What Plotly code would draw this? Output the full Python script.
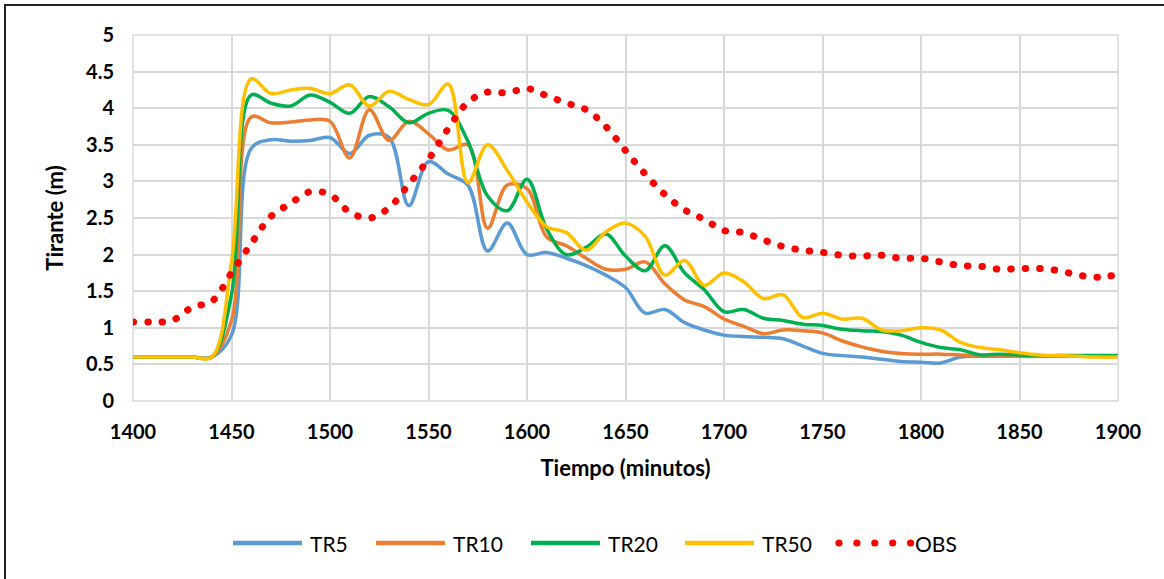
import plotly.graph_objects as go

# Time axis (minutes) and simulated / observed water depth (m)
tiempo = [1400, 1410, 1420, 1430, 1440, 1450, 1460, 1470, 1480, 1490,
          1500, 1510, 1520, 1530, 1540, 1550, 1560, 1570, 1580, 1590,
          1600, 1610, 1620, 1630, 1640, 1650, 1660, 1670, 1680, 1690,
          1700, 1710, 1720, 1730, 1740, 1750, 1760, 1770, 1780, 1790,
          1800, 1810, 1820, 1830, 1840, 1850, 1860, 1870, 1880, 1890, 1900]

tr5 = [0.60, 0.60, 0.60, 0.60, 0.60, 0.90, 3.45, 3.57, 3.55, 3.56,
       3.60, 3.38, 3.63, 3.60, 2.67, 3.27, 3.10, 2.95, 2.05, 2.43,
       2.00, 2.03, 1.95, 1.85, 1.72, 1.55, 1.20, 1.25, 1.07, 0.97,
       0.90, 0.88, 0.87, 0.85, 0.75, 0.65, 0.62, 0.60, 0.57, 0.54,
       0.53, 0.52, 0.60, 0.61, 0.61, 0.61, 0.61, 0.61, 0.61, 0.61, 0.61]

tr10 = [0.60, 0.60, 0.60, 0.60, 0.60, 1.10, 3.88, 3.80, 3.81, 3.84,
        3.82, 3.32, 3.98, 3.56, 3.82, 3.65, 3.43, 3.50, 2.36, 2.95,
        2.90, 2.24, 2.12, 1.95, 1.80, 1.80, 1.90, 1.60, 1.38, 1.29,
        1.12, 1.02, 0.92, 0.97, 0.96, 0.93, 0.82, 0.74, 0.68, 0.65,
        0.64, 0.64, 0.63, 0.62, 0.62, 0.61, 0.61, 0.61, 0.61, 0.61, 0.61]

tr20 = [0.60, 0.60, 0.60, 0.60, 0.60, 1.45, 4.18, 4.07, 4.03, 4.18,
        4.08, 3.93, 4.16, 4.02, 3.80, 3.93, 3.97, 3.55, 2.80, 2.60,
        3.03, 2.35, 2.00, 2.10, 2.28, 1.98, 1.78, 2.12, 1.75, 1.52,
        1.22, 1.25, 1.13, 1.10, 1.05, 1.03, 0.98, 0.96, 0.95, 0.90,
        0.80, 0.73, 0.70, 0.63, 0.64, 0.63, 0.62, 0.62, 0.62, 0.62, 0.62]

tr50 = [0.60, 0.60, 0.60, 0.60, 0.60, 1.90, 4.40, 4.20, 4.25, 4.27,
        4.20, 4.32, 4.03, 4.23, 4.12, 4.05, 4.33, 2.98, 3.50, 3.15,
        2.72, 2.38, 2.30, 2.06, 2.31, 2.43, 2.25, 1.72, 1.92, 1.58,
        1.75, 1.63, 1.40, 1.45, 1.14, 1.20, 1.12, 1.13, 0.97, 0.96,
        1.00, 0.97, 0.80, 0.73, 0.70, 0.66, 0.63, 0.62, 0.61, 0.60, 0.60]

obs = [1.08, 1.08, 1.10, 1.28, 1.36, 1.75, 2.15, 2.52, 2.70, 2.86,
       2.82, 2.58, 2.50, 2.64, 2.96, 3.30, 3.72, 4.08, 4.22, 4.21,
       4.27, 4.17, 4.07, 3.98, 3.75, 3.42, 3.10, 2.82, 2.61, 2.48,
       2.33, 2.30, 2.20, 2.11, 2.06, 2.03, 1.99, 1.98, 1.99, 1.95,
       1.95, 1.90, 1.85, 1.84, 1.80, 1.81, 1.81, 1.78, 1.72, 1.69, 1.73]

x_ticks = [1400, 1450, 1500, 1550, 1600, 1650, 1700, 1750, 1800, 1850, 1900]
y_ticks = [0, 0.5, 1, 1.5, 2, 2.5, 3, 3.5, 4, 4.5, 5]
y_labels = ["0", "0.5", "1", "1.5", "2", "2.5", "3", "3.5", "4", "4.5", "5"]

series_names = ["TR5", "TR10", "TR20", "TR50"]
series_values = [tr5, tr10, tr20, tr50]
series_colors = ["#5B9BD5", "#ED7D31", "#00B050", "#FFC000"]
obs_color = "#FF0000"

FONT = "Lato"
W, H = 1164, 579
ML, MR, MT, MB = 133, 46, 35, 178
PW, PH = W - ML - MR, H - MT - MB


def px_x(px):
    """pixel column -> paper x"""
    return (px - ML) / PW


def px_y(py):
    """pixel row -> paper y"""
    return (H - MB - py) / PH


fig = go.Figure()
for name, vals, color in zip(series_names, series_values, series_colors):
    fig.add_trace(go.Scatter(
        x=tiempo, y=vals, name=name, mode="lines", showlegend=False,
        line=dict(color=color, width=3.5, shape="spline", smoothing=1.0),
    ))

fig.add_trace(go.Scatter(
    x=tiempo, y=obs, name="OBS", mode="lines", showlegend=False,
    line=dict(color=obs_color, width=7, shape="spline", smoothing=1.0,
              dash="0.5px,14px"),
))

shapes = [
    # outer chart frame
    dict(type="rect", xref="paper", yref="paper",
         x0=px_x(5), x1=px_x(1300), y0=px_y(700), y1=px_y(5),
         line=dict(color="#222222", width=2), fillcolor="rgba(0,0,0,0)",
         layer="below"),
    # plot-area border
    dict(type="rect", xref="paper", yref="paper", x0=0, x1=1, y0=0, y1=1,
         line=dict(color="#D9D9D9", width=1.5), fillcolor="rgba(0,0,0,0)",
         layer="below"),
]
annotations = []

# Legend row below the x-axis title
leg_y = px_y(543)
leg_font = dict(family=FONT, size=21, color="#000000")
leg_starts = [233, 376, 531, 685]
for start, name, color in zip(leg_starts, series_names, series_colors):
    shapes.append(dict(type="line", xref="paper", yref="paper",
                       x0=px_x(start), x1=px_x(start + 69), y0=leg_y, y1=leg_y,
                       line=dict(color=color, width=4.5)))
    annotations.append(dict(xref="paper", yref="paper", x=px_x(start + 75), y=leg_y,
                            text=name, showarrow=False, xanchor="left",
                            yanchor="middle", font=leg_font))
for k in range(5):
    cx = 839 + k * 17.9
    shapes.append(dict(type="circle", xref="paper", yref="paper",
                       x0=px_x(cx - 3.6), x1=px_x(cx + 3.6),
                       y0=px_y(543 + 3.6), y1=px_y(543 - 3.6),
                       fillcolor=obs_color, line=dict(width=0)))
annotations.append(dict(xref="paper", yref="paper", x=px_x(913), y=leg_y,
                        text="OBS", showarrow=False, xanchor="left",
                        yanchor="middle", font=leg_font))

fig.update_layout(
    width=W, height=H,
    margin=dict(l=ML, r=MR, t=MT, b=MB),
    paper_bgcolor="white", plot_bgcolor="white",
    font=dict(family=FONT, color="#000000"),
    showlegend=False,
    shapes=shapes,
    annotations=annotations,
)

fig.update_xaxes(
    range=[1400, 1900], tickvals=x_ticks, ticktext=[str(v) for v in x_ticks],
    showgrid=True, gridcolor="#D9D9D9", gridwidth=1.5,
    zeroline=False, showline=False, ticks="", ticklabelstandoff=17,
    tickfont=dict(family=FONT, size=20, weight="bold", color="#000000"),
    title=dict(text="Tiempo (minutos)", standoff=18,
               font=dict(family=FONT, size=22, weight="bold", color="#000000")),
)
fig.update_yaxes(
    range=[0, 5], tickvals=y_ticks, ticktext=y_labels,
    showgrid=True, gridcolor="#D9D9D9", gridwidth=1.5,
    zeroline=False, showline=False, ticks="", ticklabelstandoff=18,
    tickfont=dict(family=FONT, size=20, weight="bold", color="#000000"),
    title=dict(text="Tirante (m)", standoff=16,
               font=dict(family=FONT, size=22, weight="bold", color="#000000")),
)

# Round line caps so the dotted OBS series renders as circular dots
post = """
var gd = document.getElementById('{plot_id}');
function roundCaps(){
  gd.querySelectorAll('path.js-line').forEach(function(p){
    p.style.strokeLinecap = 'round';
    p.style.strokeLinejoin = 'round';
  });
}
roundCaps();
gd.on('plotly_afterplot', roundCaps);
"""
fig.write_html("out.html", post_script=post)
